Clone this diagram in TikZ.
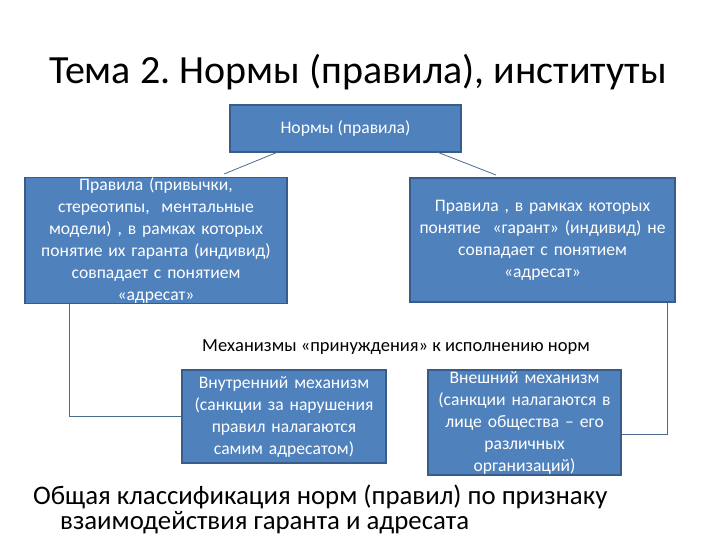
\documentclass[tikz,border=0pt]{standalone}
\usepackage{fontspec}
\setmainfont{Carlito}
\frenchspacing
\definecolor{boxblue}{HTML}{4F81BD}
\definecolor{boxedge}{HTML}{385D8A}
\definecolor{linkgray}{HTML}{4A6A8E}
\begin{document}
\begin{tikzpicture}[x=1pt,y=-1pt,
  blue box/.style = {draw=boxedge, line width=1.2pt, fill=boxblue, text=white, inner sep=0pt, align=center, font=\fontsize{17.6}{22}\selectfont},
  link/.style = {draw=linkgray, line width=0.8pt}]
\useasboundingbox (0,0) rectangle (720,540);
\node[anchor=base] (title) at (358,84) {\fontsize{40}{44}\selectfont Тема 2. Нормы (правила), институты};
\node[blue box, minimum width=231pt, minimum height=47pt] (norms) at (345.5,128.5) {Нормы (правила)};
\node[blue box, minimum width=262pt, minimum height=125pt, text width=258pt] (lbox) at (156,240.5) {Правила (привычки,\\ стереотипы,\ \ ментальные\\ модели) , в рамках которых\\ понятие их гаранта (индивид)\\ совпадает с понятием\\ «адресат»};
\node[blue box, minimum width=265pt, minimum height=124pt, text width=260pt] (rbox) at (542.5,240) {\raisebox{-3pt}{\parbox{260pt}{\centering Правила , в рамках которых\\ понятие\ \ «гарант» (индивид) не\\ совпадает с понятием\\ «адресат»}}};
\node (mech) at (396,347) {\fontsize{18.5}{20}\selectfont Механизмы «принуждения» к исполнению норм};
\node[blue box, minimum width=204pt, minimum height=93pt, text width=202pt] (ibox) at (284,416.5) {Внутренний механизм\\ (санкции за нарушения\\ правил налагаются\\ самим адресатом)};
\node[blue box, minimum width=193pt, minimum height=105pt, text width=191pt] (ebox) at (524.5,422.5) {Внешний механизм\\ (санкции налагаются в\\ лице общества -- его\\ различных\\ организаций)};
\node[anchor=base west, inner sep=0pt] (cls1) at (33,504) {\fontsize{26.8}{28}\selectfont Общая классификация норм (правил) по признаку};
\node[anchor=base west, inner sep=0pt] (cls2) at (60,529) {\fontsize{26.8}{28}\selectfont взаимодействия гаранта и адресата};
% links from the top box
\coordinate (nl) at (278,152); \coordinate (ll) at (224,174);
\coordinate (nr) at (437,152); \coordinate (rr) at (496,175);
\draw[link] (nl) -- (ll); \draw[link] (nr) -- (rr);
% elbow links to the mechanisms
\draw[link] ([xshift=45pt]lbox.south west) |- (ibox.west);
\draw[link] ([xshift=-8pt]rbox.south east) |- ([yshift=-12pt]ebox.east);
\end{tikzpicture}
\end{document}
